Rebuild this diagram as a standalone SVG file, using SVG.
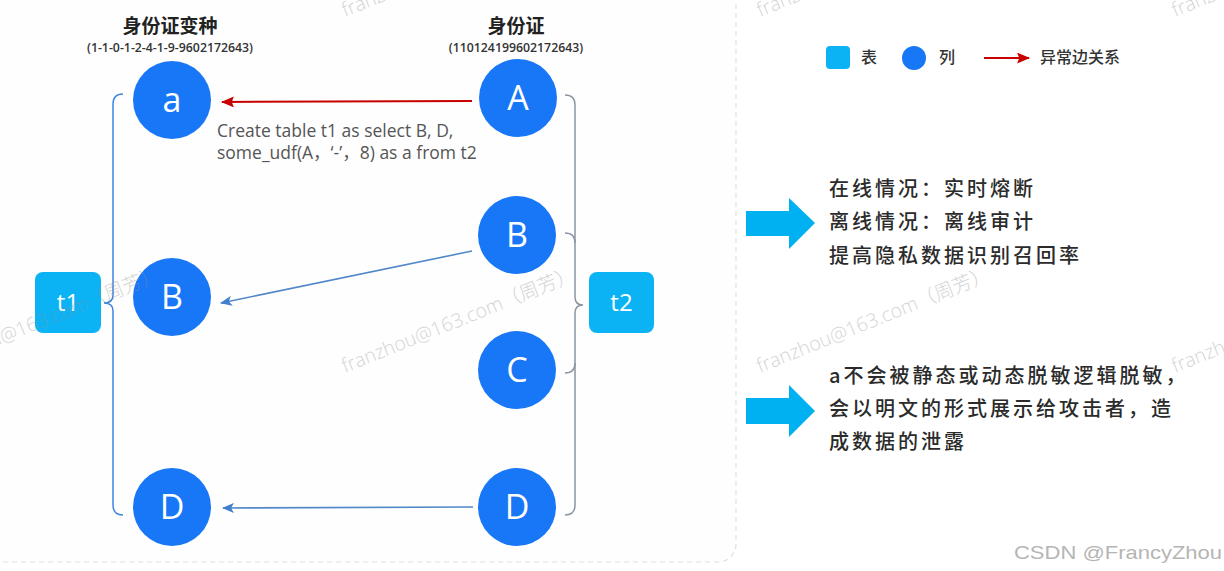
<svg xmlns="http://www.w3.org/2000/svg" width="1224" height="571" viewBox="0 0 1224 571">
<style>
.col{fill:#1877f6;}
.colt{fill:#fff;font-family:"Open Sans","Noto Sans",sans-serif;font-size:34px;font-weight:500;text-anchor:middle;}
.tbl{fill:#0cb3f4;}
.tblt{fill:#fff;font-family:"Open Sans","Noto Sans",sans-serif;font-size:24px;font-weight:500;text-anchor:middle;}
.hdr{fill:#222;font-family:"Noto Sans CJK SC",sans-serif;font-size:19px;font-weight:700;text-anchor:middle;}
.sub{fill:#333;font-family:"Open Sans","Noto Sans",sans-serif;font-size:12.3px;font-weight:600;text-anchor:middle;}
.sql{fill:#555;font-family:"Open Sans","Noto Sans CJK SC",sans-serif;font-size:17.5px;}
.leg{fill:#333;font-family:"Noto Sans CJK SC",sans-serif;font-size:16px;font-weight:500;}
.note{fill:#2b2b2b;font-family:"Noto Sans CJK SC",sans-serif;font-size:20px;font-weight:500;letter-spacing:3px;}
.wm{fill:#8f8f8f;opacity:0.38;font-family:"Open Sans","Noto Sans CJK SC",sans-serif;font-size:19.5px;font-weight:300;}
.edge{fill:none;stroke:#5088c8;stroke-width:1.6;}
.red{fill:none;stroke:#c80000;stroke-width:2;}
.brace1{fill:none;stroke:#3d86e0;stroke-width:1.5;}
.brace2{fill:none;stroke:#8b95a2;stroke-width:1.5;}
.barrow{fill:#00b1f1;}
</style>
<defs>
<marker id="ab" viewBox="0 0 12 10" refX="11" refY="5" markerWidth="12" markerHeight="10" markerUnits="userSpaceOnUse" orient="auto">
<path d="M0,0 L12,5 L0,10 L3,5 Z" fill="#3f7fcc"/>
</marker>
<marker id="ar" viewBox="0 0 12 10" refX="11" refY="5" markerWidth="13" markerHeight="11" markerUnits="userSpaceOnUse" orient="auto">
<path d="M0,0 L12,5 L0,10 L2,5 Z" fill="#c80000"/>
</marker>
</defs>
<rect width="1224" height="571" fill="#ffffff"/>
<rect x="-30" y="-30" width="766" height="592" rx="18" fill="#fefefe" stroke="#dcdfe3" stroke-width="1.2" stroke-dasharray="5,4"/>

<g id="headers">
<text class="hdr" x="170" y="33">身份证变种</text>
<text class="sub" x="170" y="52">(1-1-0-1-2-4-1-9-9602172643)</text>
<text class="hdr" x="516" y="33">身份证</text>
<text class="sub" x="516" y="52">(110124199602172643)</text>
</g>

<g id="connectors">
<path class="brace1" d="M123,94 Q113,94 113,104 V295 Q113,303 104,303 Q113,303 113,311 V505 Q113,515 123,515"/>
<path class="brace2" d="M565,95 Q575,95 575,105 V297 Q575,305 583,305 Q575,305 575,313 V505 Q575,515 565,515"/>
<path class="brace2" d="M565,233 Q575,233 575,243"/>
<path class="brace2" d="M565,373 Q575,373 575,363"/>
<line class="red" x1="472" y1="101" x2="222" y2="102" marker-end="url(#ar)"/>
<line class="edge" x1="472" y1="251" x2="221" y2="303" marker-end="url(#ab)"/>
<line class="edge" x1="473" y1="507" x2="223" y2="508" marker-end="url(#ab)"/>
</g>

<g id="sql-label">
<text class="sql" x="217" y="137">Create table t1 as select B, D,</text>
<text class="sql" x="217" y="159">some_udf(A，‘-’，8) as a from t2</text>
</g>

<g id="t1"><rect class="tbl" x="35" y="272" width="66" height="61" rx="8"/><text class="tblt" x="68" y="311">t1</text></g>
<g id="t2"><rect class="tbl" x="589" y="272" width="65" height="61" rx="8"/><text class="tblt" x="621.5" y="311">t2</text></g>

<g id="col-a"><circle class="col" cx="172" cy="100" r="39"/><text class="colt" x="172" y="112">a</text></g>
<g id="col-B1"><circle class="col" cx="172" cy="297" r="39"/><text class="colt" x="172" y="309">B</text></g>
<g id="col-D1"><circle class="col" cx="172" cy="507" r="39"/><text class="colt" x="172" y="519">D</text></g>
<g id="col-A"><circle class="col" cx="518" cy="98" r="39"/><text class="colt" x="518" y="110">A</text></g>
<g id="col-B2"><circle class="col" cx="517" cy="235" r="39"/><text class="colt" x="517" y="247">B</text></g>
<g id="col-C"><circle class="col" cx="517" cy="370" r="39"/><text class="colt" x="517" y="382">C</text></g>
<g id="col-D2"><circle class="col" cx="517" cy="507" r="39"/><text class="colt" x="517" y="519">D</text></g>

<g id="legend">
<rect class="tbl" x="826" y="46" width="24" height="23" rx="4"/>
<text class="leg" x="861" y="63">表</text>
<ellipse class="col" cx="914" cy="58" rx="12" ry="12"/>
<text class="leg" x="939" y="63">列</text>
<line class="red" x1="984" y1="58" x2="1029" y2="58" marker-end="url(#ar)"/>
<text class="leg" x="1040" y="63">异常边关系</text>
</g>

<g id="note1">
<polygon class="barrow" points="746,211 789,211 789,198 815,223 789,249 789,236 746,236"/>
<text class="note" x="829" y="196">在线情况：实时熔断</text>
<text class="note" x="829" y="229">离线情况：离线审计</text>
<text class="note" x="829" y="263">提高隐私数据识别召回率</text>
</g>

<g id="note2">
<polygon class="barrow" points="746,398 789,398 789,385 815,411 789,437 789,424 746,424"/>
<text class="note" x="829" y="383">a不会被静态或动态脱敏逻辑脱敏，</text>
<text class="note" x="829" y="416">会以明文的形式展示给攻击者，造</text>
<text class="note" x="829" y="449">成数据的泄露</text>
</g>

<text x="1014" y="559" font-family="Liberation Sans, sans-serif" font-size="19" fill="#b5b5b5" textLength="208" lengthAdjust="spacingAndGlyphs">CSDN @FrancyZhou</text>

<g id="watermarks">
<text class="wm" transform="translate(345,373) rotate(-22)">franzhou@163.com（周芳）</text>
<text class="wm" transform="translate(760,373) rotate(-22)">franzhou@163.com（周芳）</text>
<text class="wm" transform="translate(-70,373) rotate(-22)">franzhou@163.com（周芳）</text>
<text class="wm" transform="translate(1175,373) rotate(-22)">franzhou@163.com（周芳）</text>
<text class="wm" transform="translate(345,17) rotate(-22)">franzhou@163.com（周芳）</text>
<text class="wm" transform="translate(760,17) rotate(-22)">franzhou@163.com（周芳）</text>
<text class="wm" transform="translate(1175,17) rotate(-22)">franzhou@163.com（周芳）</text>
</g>
</svg>
